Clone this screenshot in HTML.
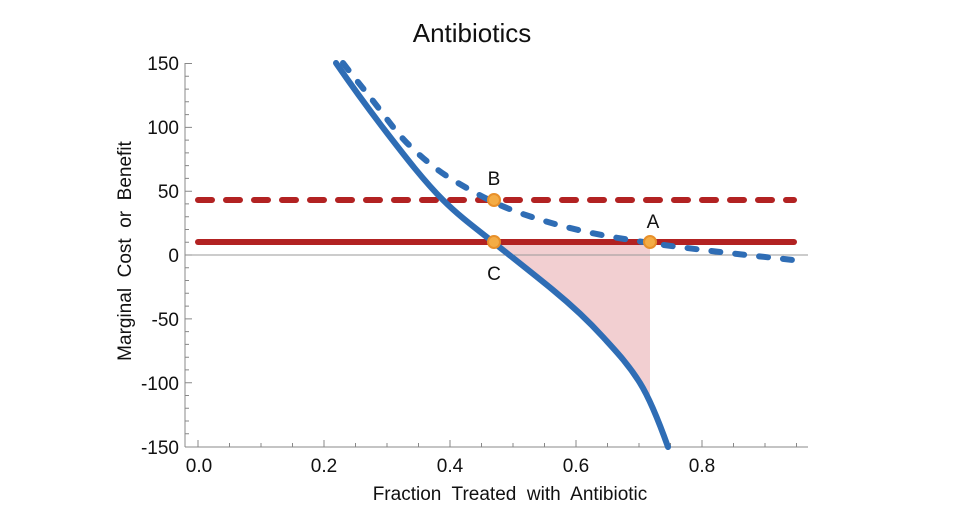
<!DOCTYPE html>
<html><head><meta charset="utf-8"><style>
body{margin:0;background:#fff;}
svg text{font-family:"Liberation Sans","DejaVu Sans",sans-serif;fill:#111;white-space:pre;}
</style></head><body>
<svg width="960" height="520" viewBox="0 0 960 520" xmlns="http://www.w3.org/2000/svg">
<text x="472" y="42" font-size="26" text-anchor="middle">Antibiotics</text>
<path d="M493,242 C513,258 533,273.6 553,290 C569.7,303.7 586.3,318.6 603,337 C615.3,350.5 627.7,363.3 640,383 C644,389 647,394 650,400 L650,242 Z" fill="#f2cfd1"/>
<line x1="185" y1="255" x2="808" y2="255" stroke="#999" stroke-width="1"/>
<g stroke="#888" stroke-width="1" fill="none">
<line x1="185" y1="63" x2="185" y2="447"/>
<line x1="185" y1="447" x2="808" y2="447"/>
<path d="M185,63.5h7 M185,76.3h4 M185,89.1h4 M185,101.8h4 M185,114.6h4 M185,127.4h7 M185,140.1h4 M185,152.9h4 M185,165.6h4 M185,178.4h4 M185,191.2h7 M185,203.9h4 M185,216.7h4 M185,229.5h4 M185,242.2h4 M185,255h7 M185,267.8h4 M185,280.5h4 M185,293.3h4 M185,306.1h4 M185,318.9h7 M185,331.6h4 M185,344.4h4 M185,357.2h4 M185,369.9h4 M185,382.7h7 M185,395.5h4 M185,408.2h4 M185,421h4 M185,433.8h4"/>
<path d="M198,447v-7 M229.5,447v-4 M261,447v-4 M292.5,447v-4 M324,447v-7 M355.5,447v-4 M387,447v-4 M418.5,447v-4 M450,447v-7 M481.5,447v-4 M513,447v-4 M544.5,447v-4 M576,447v-7 M607.5,447v-4 M639,447v-4 M670.5,447v-4 M702,447v-7 M733.5,447v-4 M765,447v-4 M796.5,447v-4"/>
</g>
<g font-size="19" text-anchor="end">
<text x="179" y="70">150</text>
<text x="179" y="134">100</text>
<text x="179" y="198">50</text>
<text x="179" y="262">0</text>
<text x="179" y="326">-50</text>
<text x="179" y="390">-100</text>
<text x="179" y="454">-150</text>
</g>
<g font-size="19" text-anchor="middle">
<text x="199" y="472">0.0</text>
<text x="324" y="472">0.2</text>
<text x="450" y="472">0.4</text>
<text x="576" y="472">0.6</text>
<text x="702" y="472">0.8</text>
</g>
<text x="510" y="500" font-size="19" text-anchor="middle">Fraction  Treated  with  Antibiotic</text>
<text transform="translate(131,251) rotate(-90)" font-size="19" text-anchor="middle">Marginal  Cost  or  Benefit</text>
<line x1="198" y1="242" x2="794" y2="242" stroke="#b22222" stroke-width="6" stroke-linecap="round"/>
<line x1="198" y1="200" x2="794" y2="200" stroke="#b22222" stroke-width="6" stroke-linecap="round" stroke-dasharray="14,14"/>
<path d="M336,63 C353,87.7 370,110.9 387,133 C405.7,157.3 424.3,181.3 443,200 C459.7,216.7 476.3,228.7 493,242 C513,258 533,273.6 553,290 C569.7,303.7 586.3,318.6 603,337 C615.3,350.5 627.7,363.3 640,383 C649.3,397.9 658.7,421 668,447" fill="none" stroke="#2f6db5" stroke-width="6" stroke-linecap="round"/>
<path d="M343,63 C352,74.7 361,85.75 370,97 C382.3,112.4 394.7,130.7 407,143 C422.3,158.3 437.7,170.8 453,180 C475.3,193.4 497.7,205.2 520,213 C542.3,220.8 564.7,227.1 587,232 C608,236.6 629,239.8 650,243 C673.3,246.5 696.7,249.2 720,252 C744.3,254.9 768.7,257.3 793,260" fill="none" stroke="#2f6db5" stroke-width="6" stroke-linecap="round" stroke-dasharray="9,15"/>
<g fill="#f4ac45" stroke="#e8902a" stroke-width="2">
<circle cx="494" cy="200" r="6"/>
<circle cx="494" cy="242" r="6"/>
<circle cx="650" cy="242" r="6"/>
</g>
<g font-size="19" text-anchor="middle">
<text x="494" y="185">B</text>
<text x="653" y="228">A</text>
<text x="494" y="280">C</text>
</g>
</svg>
</body></html>
